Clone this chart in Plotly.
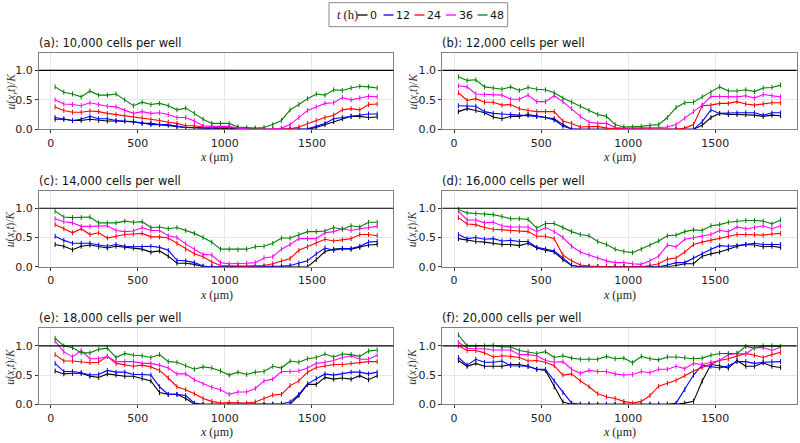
import plotly.graph_objects as go
from plotly.subplots import make_subplots

# positions along the scratch (um)
X_UM = [25, 75, 125, 175, 225, 275, 325, 375, 425, 475,
        525, 575, 625, 675, 725, 775, 825, 875, 925, 975,
        1025, 1075, 1125, 1175, 1225, 1275, 1325, 1375, 1425, 1475,
        1525, 1575, 1625, 1675, 1725, 1775, 1825, 1875]

TIMES = [0, 12, 24, 36, 48]
COLORS = ["black", "blue", "red", "magenta", "green"]

PANEL_TITLES = [
    "(a): 10,000 cells per well",
    "(b): 12,000 cells per well",
    "(c): 14,000 cells per well",
    "(d): 16,000 cells per well",
    "(e): 18,000 cells per well",
    "(f): 20,000 cells per well",
]

# u(x,t)/K, one list per panel and time
A_T0 = [.17, .17, .15, .15, .17, .15, .14, .14, .14, .13, .10, .10, .08, .07, .05, .03, .02, .02, .02, .02,
        .02, .01, 0, 0, 0, 0, 0, 0, 0, 0, .03, .08, .13, .18, .22, .22, .20, .21]
A_T12 = [.20, .18, .15, .17, .22, .18, .18, .15, .14, .12, .11, .08, .08, .08, .05, .03, .03, .02, .02, .03,
         .03, .01, 0, 0, 0, 0, 0, 0, 0, .01, .05, .10, .18, .20, .22, .24, .26, .26]
A_T24 = [.38, .32, .29, .29, .31, .30, .27, .25, .23, .22, .20, .17, .15, .12, .10, .06, .06, .04, .03, .03,
         .03, .02, .01, 0, 0, 0, 0, .01, .04, .10, .15, .20, .24, .33, .35, .33, .42, .43]
A_T36 = [.50, .43, .42, .40, .45, .42, .39, .38, .32, .27, .30, .27, .28, .25, .20, .20, .14, .06, .05, .05,
         .05, .02, .01, .01, 0, 0, .02, .08, .20, .32, .38, .44, .45, .54, .50, .53, .56, .55]
A_T48 = [.72, .63, .60, .55, .65, .58, .58, .60, .50, .40, .46, .42, .44, .40, .33, .36, .27, .17, .10, .10,
         .10, .04, .03, .02, .03, .08, .15, .33, .42, .52, .60, .58, .67, .66, .70, .73, .72, .70]

B_T0 = [.30, .35, .32, .28, .21, .18, .22, .22, .25, .22, .20, .18, .08, 0, 0, 0, 0, 0, 0, 0,
        0, 0, 0, 0, 0, 0, 0, 0, .07, .20, .27, .25, .25, .25, .24, .22, .24, .23]
B_T12 = [.40, .40, .39, .30, .27, .26, .25, .25, .24, .22, .20, .16, .05, .01, 0, 0, 0, 0, 0, 0,
         0, 0, 0, 0, 0, 0, 0, 0, .13, .33, .27, .28, .28, .28, .28, .24, .28, .28]
B_T24 = [.62, .49, .52, .46, .46, .41, .42, .35, .32, .30, .30, .30, .14, .10, .04, .05, .05, .02, .01, .01,
         .01, .01, 0, 0, 0, 0, .02, .08, .40, .41, .44, .44, .47, .43, .41, .43, .45, .45]
B_T36 = [.74, .72, .60, .59, .59, .58, .51, .51, .58, .47, .47, .57, .47, .35, .22, .12, .10, .10, .03, .02,
         .02, .02, .02, .03, .04, .08, .19, .30, .41, .56, .56, .56, .55, .57, .53, .59, .57, .55]
B_T48 = [.89, .83, .84, .72, .70, .68, .72, .66, .71, .68, .67, .62, .53, .46, .39, .32, .25, .22, .08, .04,
         .04, .05, .07, .08, .20, .37, .45, .46, .55, .63, .72, .65, .65, .67, .64, .70, .71, .75]

C_T0 = [.38, .35, .29, .35, .37, .34, .32, .35, .33, .32, .30, .25, .27, .18, .06, .06, .04, 0, 0, 0,
        0, 0, 0, 0, 0, 0, 0, 0, 0, 0, .12, .26, .30, .31, .30, .33, .37, .38]
C_T12 = [.52, .45, .40, .40, .40, .37, .35, .38, .35, .34, .34, .35, .33, .28, .11, .10, .07, .01, 0, 0,
         0, 0, 0, 0, 0, 0, .01, .02, .06, .10, .22, .32, .28, .31, .31, .35, .42, .43]
C_T24 = [.72, .65, .58, .65, .55, .58, .49, .52, .55, .56, .57, .51, .51, .49, .40, .30, .22, .17, .08, .02,
         .01, .01, .01, .01, .02, .05, .10, .14, .28, .34, .40, .47, .44, .46, .48, .55, .55, .53]
C_T36 = [.82, .77, .75, .69, .69, .69, .70, .62, .60, .61, .67, .62, .62, .53, .50, .39, .30, .21, .20, .07,
         .05, .05, .06, .07, .15, .17, .30, .38, .48, .48, .48, .58, .60, .65, .62, .65, .67, .69]
C_T48 = [.95, .85, .84, .84, .85, .75, .75, .75, .78, .76, .77, .67, .68, .65, .67, .62, .57, .50, .42, .30,
         .30, .29, .30, .34, .35, .40, .49, .49, .55, .60, .60, .61, .67, .64, .70, .68, .76, .76]

D_T0 = [.48, .45, .43, .42, .40, .38, .38, .36, .40, .32, .28, .25, .12, .02, 0, 0, 0, 0, 0, 0,
        0, 0, 0, 0, 0, .02, .05, .05, .18, .22, .25, .30, .35, .38, .37, .34, .35, .33]
D_T12 = [.55, .48, .50, .47, .48, .44, .45, .43, .43, .33, .30, .27, .15, .02, 0, 0, 0, 0, 0, 0,
         0, 0, 0, 0, .03, .07, .07, .15, .22, .30, .36, .35, .36, .38, .40, .38, .38, .38]
D_T24 = [.84, .73, .72, .67, .64, .63, .61, .61, .60, .52, .52, .48, .20, .10, .03, .01, 0, 0, 0, 0,
         0, 0, .02, .05, .13, .15, .25, .38, .42, .45, .49, .52, .55, .55, .55, .54, .56, .57]
D_T36 = [.95, .80, .80, .75, .76, .70, .68, .68, .68, .60, .67, .60, .50, .35, .25, .20, .15, .10, .07, .07,
         .05, .04, .10, .18, .37, .34, .47, .50, .52, .55, .62, .60, .68, .65, .67, .70, .65, .70]
D_T48 = [.98, .92, .91, .90, .89, .86, .82, .82, .81, .66, .74, .74, .67, .60, .55, .53, .43, .38, .30, .26,
         .24, .30, .37, .44, .53, .54, .60, .63, .62, .70, .72, .76, .78, .79, .79, .78, .73, .80]

E_T0 = [.57, .52, .53, .53, .48, .46, .52, .50, .48, .48, .44, .40, .20, .17, .17, .10, 0, 0, 0, 0,
        0, 0, 0, 0, 0, 0, 0, 0, .15, .34, .34, .46, .43, .45, .43, .49, .42, .49]
E_T12 = [.70, .56, .56, .54, .50, .51, .58, .55, .55, .51, .51, .50, .30, .17, .17, .15, .02, 0, 0, 0,
         0, 0, 0, 0, 0, 0, .01, .04, .17, .35, .44, .52, .50, .52, .55, .55, .52, .55]
E_T24 = [.85, .74, .74, .73, .71, .72, .82, .70, .68, .65, .67, .64, .58, .45, .30, .25, .18, .10, .05, .02,
         .03, .03, .02, .04, .10, .16, .17, .32, .40, .55, .63, .66, .68, .68, .70, .72, .73, .73]
E_T36 = [1.08, .90, .81, .92, .78, .78, .82, .73, .73, .73, .70, .70, .67, .62, .52, .52, .42, .35, .29, .25,
         .17, .21, .21, .27, .40, .43, .56, .56, .57, .62, .70, .72, .75, .80, .83, .77, .77, .84]
E_T48 = [1.13, 1.00, .97, .88, .88, .94, .96, .80, .87, .84, .83, .80, .85, .73, .72, .66, .60, .64, .62, .57,
         .50, .55, .51, .55, .56, .65, .62, .74, .72, .78, .80, .86, .81, .86, .85, .82, .91, .93]

F_T0 = [.75, .65, .70, .65, .65, .65, .68, .68, .65, .60, .58, .30, .04, 0, 0, 0, 0, 0, 0, 0,
        0, 0, 0, 0, 0, 0, .02, .05, .40, .68, .66, .62, .75, .65, .65, .71, .65, .63]
F_T12 = [.80, .67, .77, .72, .72, .74, .66, .66, .65, .60, .60, .40, .20, .02, 0, 0, 0, 0, 0, 0,
         0, 0, 0, 0, 0, .02, .25, .50, .67, .65, .62, .66, .73, .73, .70, .72, .73, .73]
F_T24 = [1.00, .92, .92, .88, .81, .83, .82, .80, .74, .75, .72, .66, .50, .52, .40, .30, .18, .13, .10, .05,
         .02, .05, .15, .31, .36, .41, .49, .57, .63, .69, .75, .78, .82, .87, .84, .80, .85, .89]
F_T36 = [1.06, .96, .95, .95, .93, .93, .93, .85, .85, .83, .75, .72, .73, .60, .53, .58, .56, .56, .52, .50,
         .51, .56, .54, .60, .60, .65, .61, .70, .68, .72, .75, .85, .87, .86, .97, .97, .92, .98]
F_T48 = [1.19, 1.00, 1.00, 1.00, 1.01, .98, .98, .92, .90, .87, .90, .80, .83, .79, .77, .77, .77, .82, .78, .79,
         .71, .82, .78, .76, .81, .81, .80, .78, .79, .84, .87, .87, .87, .99, .96, 1.00, 1.00, .99]

PANELS = [
    [A_T0, A_T12, A_T24, A_T36, A_T48],
    [B_T0, B_T12, B_T24, B_T36, B_T48],
    [C_T0, C_T12, C_T24, C_T36, C_T48],
    [D_T0, D_T12, D_T24, D_T36, D_T48],
    [E_T0, E_T12, E_T24, E_T36, E_T48],
    [F_T0, F_T12, F_T24, F_T36, F_T48],
]

# page geometry (pixels), converted to paper fractions below
W, H = 800, 443
COL_PX = [(39, 393.3), (442.3, 796.7)]
ROW_PX = [(52.7, 129.3), (190.7, 266.7), (328.3, 404.3)]
YLABEL_PX = [10.5, 412.5]


def fx(px):
    return px / W


def fy(px):
    return 1 - px / H


SANS = "DejaVu Sans"
SERIF = "Liberation Serif"

fig = make_subplots(rows=3, cols=2)

for k, (series, title) in enumerate(zip(PANELS, PANEL_TITLES)):
    row, col = k // 2 + 1, k % 2 + 1
    for t, ys, c in zip(TIMES, series, COLORS):
        fig.add_trace(go.Scatter(
            x=X_UM, y=ys, mode="lines+markers", name=f"{t} h",
            line=dict(color=c, width=1.1),
            marker=dict(symbol="line-ns", size=3.5, line=dict(color=c, width=1)),
            showlegend=False, hoverinfo="x+y+name",
        ), row=row, col=col)
    fig.add_hline(y=1, line=dict(color="black", width=1.2), row=row, col=col)

    x0, x1 = COL_PX[col - 1]
    top, bottom = ROW_PX[row - 1]
    fig.update_xaxes(domain=[fx(x0), fx(x1)], row=row, col=col)
    fig.update_yaxes(domain=[fy(bottom), fy(top)], row=row, col=col)

    # panel title
    fig.add_annotation(text=title, xref="paper", yref="paper", x=fx(x0 - 2), y=fy(top - 1),
                       xanchor="left", yanchor="bottom", showarrow=False,
                       font=dict(family=SANS, size=11.5, color="#111"))
    # x label
    fig.add_annotation(text="<i>x</i> (μm)", xref="paper", yref="paper",
                       x=fx((x0 + x1) / 2), y=fy(bottom + 28), xanchor="center", yanchor="middle",
                       showarrow=False, font=dict(family=SERIF, size=12, color="#222"))
    # y label
    fig.add_annotation(text="<i>u</i>(<i>x</i>,<i>t</i>)/<i>K</i>", xref="paper", yref="paper",
                       x=fx(YLABEL_PX[col - 1]), y=fy((top + bottom) / 2), textangle=-90,
                       xanchor="center", yanchor="middle", showarrow=False,
                       font=dict(family=SERIF, size=11.5, color="#333"))

fig.update_xaxes(range=[-67.5, 1967.5], tickvals=[0, 500, 1000, 1500], automargin=False,
                 showgrid=True, gridcolor="#e6e6e6", gridwidth=1, zeroline=False,
                 showline=True, mirror=True, linecolor="#808080", linewidth=1,
                 ticks="outside", ticklen=3, tickcolor="#333",
                 tickfont=dict(family=SANS, size=11, color="#222"))
fig.update_yaxes(range=[0, 1.3], tickvals=[0, 0.5, 1.0], ticktext=["0.0", "0.5", "1.0"],
                 automargin=False,
                 showgrid=True, gridcolor="#e6e6e6", gridwidth=1, zeroline=False,
                 showline=True, mirror=True, linecolor="#808080", linewidth=1,
                 ticks="outside", ticklen=3, tickcolor="#333",
                 tickfont=dict(family=SANS, size=11, color="#222"))

# hand-drawn legend box at the top
LEG_BOX = (329, 2.7, 507.7, 26.7)
LEG_LINE_X = [357.5, 383.5, 414.5, 446, 477.5]
LEG_MID = 15
fig.add_shape(type="rect", xref="paper", yref="paper",
              x0=fx(LEG_BOX[0]), x1=fx(LEG_BOX[2]), y0=fy(LEG_BOX[3]), y1=fy(LEG_BOX[1]),
              line=dict(color="#888", width=1), fillcolor="white")
fig.add_annotation(text="<i>t</i> (h)", xref="paper", yref="paper", x=fx(335), y=fy(LEG_MID),
                   xanchor="left", yanchor="middle", showarrow=False,
                   font=dict(family=SERIF, size=12.5, color="#222"))
for t, c, lx in zip(TIMES, COLORS, LEG_LINE_X):
    fig.add_shape(type="line", xref="paper", yref="paper",
                  x0=fx(lx), x1=fx(lx + 10), y0=fy(LEG_MID), y1=fy(LEG_MID),
                  line=dict(color=c, width=1.3))
    fig.add_annotation(text=str(t), xref="paper", yref="paper", x=fx(lx + 10.5), y=fy(LEG_MID),
                       xanchor="left", yanchor="middle", showarrow=False,
                       font=dict(family=SANS, size=11, color="#111"))

fig.update_layout(
    width=W, height=H,
    margin=dict(l=0, r=0, t=0, b=0),
    paper_bgcolor="white", plot_bgcolor="white",
    showlegend=False,
)

# drop the default page margin so the 800x443 figure fills the window exactly
fig.write_html("out.html", config={"displayModeBar": False},
               post_script="document.body.style.margin='0';")
